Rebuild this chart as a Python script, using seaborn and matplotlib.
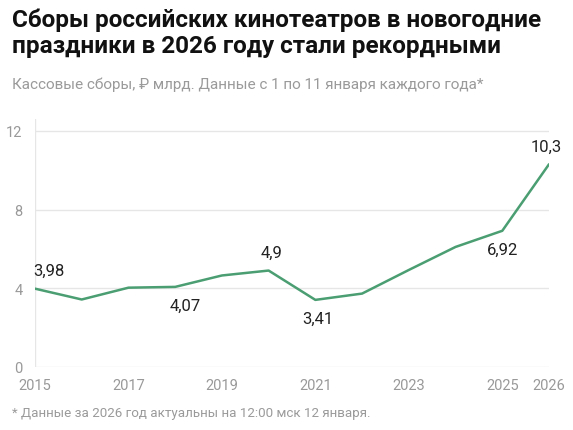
import matplotlib
matplotlib.use("Agg")
import matplotlib.pyplot as plt
import seaborn as sns
import pandas as pd

years = [2015, 2016, 2017, 2018, 2019, 2020, 2021, 2022, 2023, 2024, 2025, 2026]
values = [3.98, 3.43, 4.03, 4.07, 4.65, 4.9, 3.41, 3.73, 4.93, 6.1, 6.92, 10.3]
labels = {2015: "3,98", 2018: "4,07", 2020: "4,9", 2021: "3,41", 2025: "6,92", 2026: "10,3"}
yticks = [0, 4, 8, 12]
xticks = [2015, 2017, 2019, 2021, 2023, 2025, 2026]

sns.set_style("white")
plt.rcParams['font.family'] = ['Roboto', 'DejaVu Sans']
df = pd.DataFrame({"year": years, "value": values})

fig = plt.figure(figsize=(5.73, 4.31), dpi=100)
ax = fig.add_axes([35/573, 1-368/431, (549-35)/573, (368-120)/431])
sns.lineplot(data=df, x="year", y="value", ax=ax, color="#4a9e72", linewidth=1.8)
ax.set_xlim(2015, 2026)
ax.set_ylim(0, 12.6)
for t in yticks:
    ax.axhline(t, color="#e6e6e6", lw=1, zorder=0)
ax.axvline(2015, color="#e6e6e6", lw=1, zorder=0)
ax.set_yticks(yticks)
ax.set_yticklabels([str(t) for t in yticks], fontsize=10.5, color="#999999")
ax.tick_params(axis="y", length=0, pad=9)
ax.set_xticks(xticks)
ax.set_xticklabels([str(x) for x in xticks], fontsize=10.5, color="#999999")
ax.tick_params(axis="x", length=0, pad=8)
for s in ax.spines.values():
    s.set_visible(False)
ax.set_xlabel(""); ax.set_ylabel("")
offsets = {2015: (10, 1), 2018: (7, -1), 2020: (2, 1), 2021: (2, -1), 2025: (0, -1), 2026: (-2, 1)}
for y, v in zip(years, values):
    if y in labels:
        dx, side = offsets[y]
        ax.annotate(labels[y], (y, v), xytext=(dx, 13 * side), textcoords="offset points",
                    ha="center", va="center", fontsize=12, color="#222222")

fig.text(12/573, 1-9/431, "Сборы российских кинотеатров в новогодние\nпраздники в 2026 году стали рекордными",
         fontsize=17.5, fontweight="bold", va="top", ha="left", linespacing=1.12, color="#111111")
fig.text(12/573, 1-85/431, "Кассовые сборы, ₽ млрд. Данные с 1 по 11 января каждого года*",
         fontsize=11, va="center", color="#9a9a9a")
fig.text(12/573, 1-414/431, "* Данные за 2026 год актуальны на 12:00 мск 12 января.",
         fontsize=9.6, va="center", color="#9a9a9a")
fig.savefig("out.png", dpi=100)
